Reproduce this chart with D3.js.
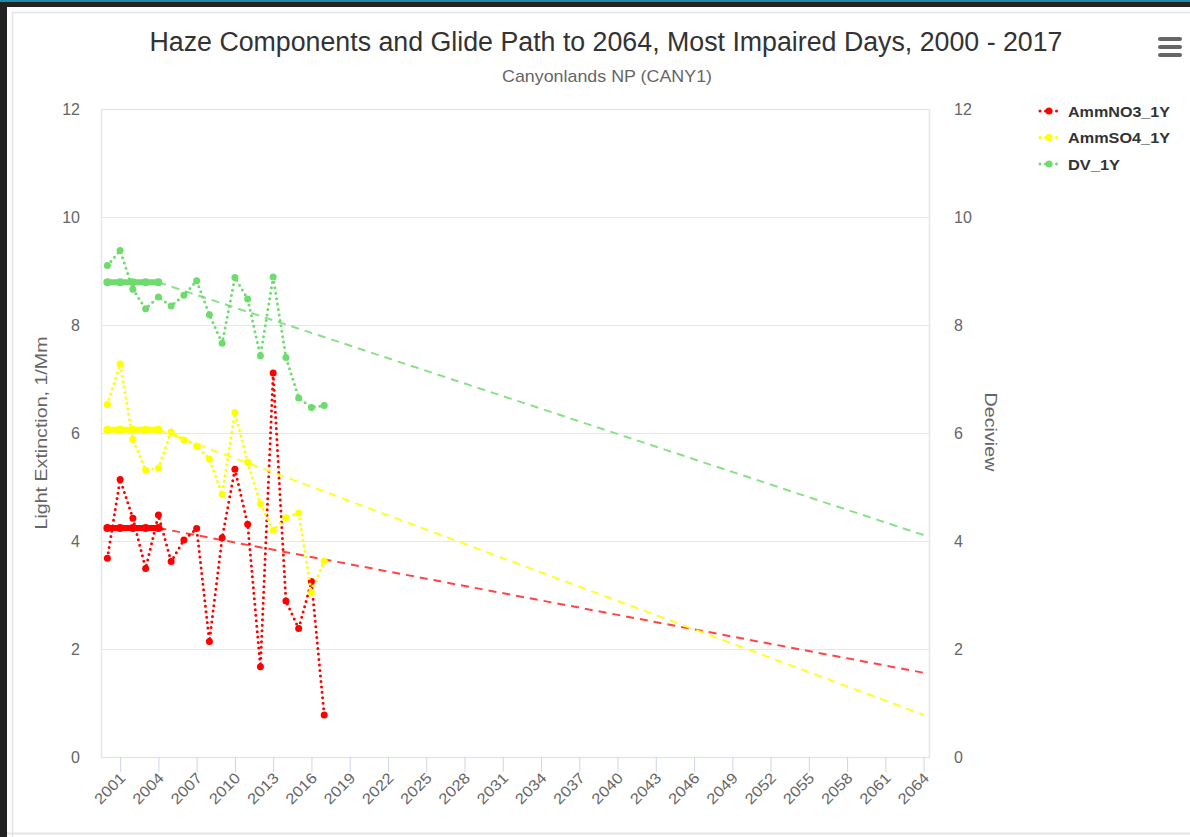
<!DOCTYPE html>
<html><head><meta charset="utf-8">
<script src="https://cdn.jsdelivr.net/npm/d3@7/dist/d3.min.js"></script>
<style>
html,body{margin:0;padding:0;background:#222;}
svg{display:block;font-family:"Liberation Sans",Arial,sans-serif;}
</style></head>
<body>
<svg id="c" width="1190" height="837"></svg>
<script>
const dataYears = [2000,2001,2002,2003,2004,2005,2006,2007,2008,2009,2010,2011,2012,2013,2014,2015,2016,2017];
const ammNO3 = [3.68,5.14,4.42,3.49,4.48,3.62,4.02,4.23,2.14,4.06,5.33,4.31,1.67,7.11,2.89,2.38,3.25,0.78];
const ammSO4 = [6.53,7.28,5.88,5.31,5.35,6.02,5.87,5.76,5.52,4.86,6.38,5.46,4.69,4.20,4.43,4.52,3.04,3.63];
const dv = [9.10,9.38,8.66,8.30,8.52,8.35,8.55,8.82,8.19,7.66,8.88,8.48,7.43,8.89,7.40,6.65,6.47,6.51];
const baselineYears = [2000,2001,2002,2003,2004];
const baseNO3 = [4.24,4.24,4.24,4.24,4.24];
const baseSO4 = [6.06,6.06,6.06,6.06,6.06];
const baseDV = [8.79,8.79,8.79,8.79,8.79];
const glideYears = [2004,2064];
const glideNO3 = [4.24,1.56];
const glideSO4 = [6.06,0.78];
const glideDV = [8.79,4.11];
const firstYear = 2000, lastYear = 2064;
const xTickLabels = ["2001","2004","2007","2010","2013","2016","2019","2022","2025","2028","2031","2034","2037","2040","2043","2046","2049","2052","2055","2058","2061","2064"];
const yTicks = [0,2,4,6,8,10,12];
const seriesNames = ["AmmNO3_1Y","AmmSO4_1Y","DV_1Y"];

const svg = d3.select("#c");
// frame
svg.append("rect").attr("x",0).attr("y",0).attr("width",1190).attr("height",837).attr("fill","#222");
svg.append("rect").attr("x",7).attr("y",7).attr("width",1183).attr("height",830).attr("fill","#fff");
svg.append("rect").attr("x",0).attr("y",0).attr("width",1190).attr("height",2).attr("fill","#1f8aa5");
svg.append("path").attr("d","M12.5,837 V12.5 H1190").attr("fill","none").attr("stroke","#e4e4e4").attr("stroke-width",1.5);
svg.append("line").attr("x1",7).attr("x2",1190).attr("y1",833.5).attr("y2",833.5).attr("stroke","#e4e4e4").attr("stroke-width",2);

const L=101,R=930,T=109,B=757;
const cats = d3.range(firstYear,lastYear+1).map(String);
const x = d3.scalePoint().domain(cats).range([L,R]).padding(0.5);
const y = d3.scaleLinear().domain([0,12]).range([B,T]);
const y2 = d3.scaleLinear().domain([0,12]).range([B,T]);

// grid
svg.append("g").selectAll("line").data(yTicks).join("line")
  .attr("x1",L).attr("x2",R).attr("y1",d=>Math.round(y(d))+0.5).attr("y2",d=>Math.round(y(d))+0.5)
  .attr("stroke","#e6e6e6").attr("stroke-width",1);
svg.append("rect").attr("x",L+0.5).attr("y",T+0.5).attr("width",R-L-1).attr("height",B-T).attr("fill","none").attr("stroke","#e6e6e6").attr("stroke-width",1.5);

// left axis
const ya = d3.axisLeft(y).tickValues(yTicks).tickSize(0).tickPadding(0);
const gL = svg.append("g").attr("transform",`translate(${L-21},0)`).call(ya);
gL.select(".domain").remove();
gL.selectAll("text").attr("fill","#666").style("font-size","16px").attr("dy","0.32em");
const ya2 = d3.axisRight(y2).tickValues(yTicks).tickSize(0).tickPadding(0);
const gR = svg.append("g").attr("transform",`translate(${R+24},0)`).call(ya2);
gR.select(".domain").remove();
gR.selectAll("text").attr("fill","#666").style("font-size","16px").attr("dy","0.32em");

// bottom axis
const xa = d3.axisBottom(x).tickValues(xTickLabels).tickSize(15).tickPadding(2);
const gB = svg.append("g").attr("transform",`translate(0,${B})`).call(xa);
gB.select(".domain").remove();
gB.selectAll(".tick line").attr("stroke","#ccd6eb");
gB.selectAll("text").attr("fill","#666").style("font-size","15px")
  .attr("text-anchor","end").attr("dy",null).attr("y",null)
  .attr("textLength",37).attr("lengthAdjust","spacingAndGlyphs")
  .attr("transform","translate(6,22) rotate(-45)");

// titles
svg.append("text").attr("x",606).attr("y",51).attr("text-anchor","middle").attr("fill","#333")
  .attr("textLength",913).attr("lengthAdjust","spacingAndGlyphs")
  .style("font-size","27px").text("Haze Components and Glide Path to 2064, Most Impaired Days, 2000 - 2017");
svg.append("text").attr("x",607).attr("y",82).attr("text-anchor","middle").attr("fill","#666")
  .attr("textLength",210).attr("lengthAdjust","spacingAndGlyphs")
  .style("font-size","17px").text("Canyonlands NP (CANY1)");
svg.append("text").attr("transform",`translate(47,${433}) rotate(-90)`).attr("text-anchor","middle").attr("fill","#666")
  .attr("textLength",193).attr("lengthAdjust","spacingAndGlyphs")
  .style("font-size","17px").text("Light Extinction, 1/Mm");
svg.append("text").attr("transform",`translate(985,${432}) rotate(90)`).attr("text-anchor","middle").attr("fill","#666")
  .attr("textLength",79).attr("lengthAdjust","spacingAndGlyphs")
  .style("font-size","17px").text("Deciview");

// hamburger
[37,45,53].forEach(yy=>svg.append("rect").attr("x",1158).attr("y",yy).attr("width",24).attr("height",4).attr("rx",2).attr("fill","#666"));

const colors = ["#ff0000","#ffff00","#6ddc6d"];
const glideColors = ["#ff4444","#ffff22","#88e088"];
const seriesData = [ammNO3, ammSO4, dv];
const baseData = [baseNO3, baseSO4, baseDV];
const glideData = [glideNO3, glideSO4, glideDV];

for(let s=0;s<3;s++){
  const g = svg.append("g");
  const ys = s===2? y2 : y;
  const ln = d3.line().x(d=>x(String(d[0]))).y(d=>ys(d[1]));
  // glide path
  g.append("path").attr("d",ln(glideYears.map((yr,i)=>[yr,glideData[s][i]])))
    .attr("fill","none").attr("stroke",glideColors[s]).attr("stroke-width",2).attr("stroke-dasharray","8,6");
  // baseline
  const bpts = baselineYears.map((yr,i)=>[yr,baseData[s][i]]);
  g.append("path").attr("d",ln(bpts))
    .attr("fill","none").attr("stroke",colors[s]).attr("stroke-width",6).attr("stroke-linecap","round");
  g.selectAll("circle.b").data(bpts).join("circle")
    .attr("cx",d=>x(String(d[0]))).attr("cy",d=>ys(d[1])).attr("r",4).attr("fill",colors[s]);
  // series
  const pts = dataYears.map((yr,i)=>[yr,seriesData[s][i]]);
  g.append("path").attr("d",ln(pts))
    .attr("fill","none").attr("stroke",colors[s]).attr("stroke-width",3).attr("stroke-linecap","round").attr("stroke-dasharray","0,5.5");
  g.selectAll("circle.p").data(pts).join("circle")
    .attr("cx",d=>x(String(d[0]))).attr("cy",d=>ys(d[1])).attr("r",3.5).attr("fill",colors[s]);
}

// legend
const lg = svg.append("g");
seriesNames.forEach((n,i)=>{
  const yy = 111 + i*26.5;
  lg.append("line").attr("x1",1040).attr("x2",1058).attr("y1",yy).attr("y2",yy).attr("stroke",colors[i])
    .attr("stroke-width",3).attr("stroke-linecap","round").attr("stroke-dasharray","0,5.5");
  lg.append("circle").attr("cx",1049).attr("cy",yy).attr("r",3.5).attr("fill",colors[i]);
  const t = lg.append("text").attr("x",1068).attr("y",yy+5.5).attr("fill","#333").style("font-size","15px").style("font-weight","bold").text(n);
  if(i<2) t.attr("textLength",102).attr("lengthAdjust","spacingAndGlyphs");
  else t.attr("textLength",52).attr("lengthAdjust","spacingAndGlyphs");
});
</script>
</body></html>
